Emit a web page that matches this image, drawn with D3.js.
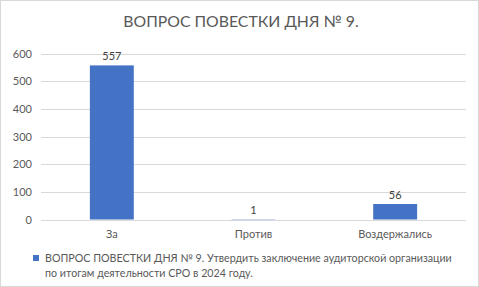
<!DOCTYPE html>
<html>
<head>
<meta charset="utf-8">
<script src="https://cdn.jsdelivr.net/npm/d3@7"></script>
<style>
  body { margin: 0; background: #fff; }
  text { font-family: Lato, "Open Sans", sans-serif; }
</style>
</head>
<body>
<svg id="chart" width="479" height="287"></svg>
<script>
let categories = ["За", "Против", "Воздержались"]
let votes = [557, 1, 56]
let yTicks = [0, 100, 200, 300, 400, 500, 600]
let chartTitle = "ВОПРОС ПОВЕСТКИ ДНЯ № 9."
let legendLines = ["ВОПРОС ПОВЕСТКИ ДНЯ № 9. Утвердить заключение аудиторской организации",
                   "по итогам деятельности СРО в 2024 году."]

let svg = d3.select("#chart")
let width = 479
let height = 287
let plotLeft = 41, plotRight = 466, plotTop = 53.5, plotBottom = 219.5

svg.append("rect")
    .attr("x", 0.5).attr("y", 0.5)
    .attr("width", width - 1).attr("height", height - 1)
    .attr("fill", "#fff")
    .attr("stroke", "#d9d9d9")

svg.append("text")
    .attr("x", 241).attr("y", 27)
    .attr("text-anchor", "middle")
    .attr("font-size", 15.8)
    .attr("fill", "#595959")
    .text(chartTitle)

let xScale = d3.scaleBand()
    .domain(categories)
    .range([plotLeft, plotRight])
    .paddingInner(0.69)
    .paddingOuter(0.345)
let yScale = d3.scaleLinear()
    .domain([0, 600])
    .range([plotBottom, plotTop])

// gridlines
svg.append("g")
    .selectAll("line")
    .data(yTicks)
    .join("line")
    .attr("x1", plotLeft).attr("x2", plotRight)
    .attr("y1", d => Math.round(yScale(d)) + 0.5)
    .attr("y2", d => Math.round(yScale(d)) + 0.5)
    .attr("stroke", "#d9d9d9")

let yAxis = svg.append("g")
    .attr("transform", "translate(" + (plotLeft - 9) + ",0)")
    .call(d3.axisLeft(yScale).tickValues(yTicks).tickSize(0).tickPadding(0))
yAxis.select(".domain").remove()
yAxis.selectAll("text")
    .attr("font-size", 11)
    .attr("fill", "#595959")
    .style("font-family", "Lato, sans-serif")

svg.append("g")
    .selectAll("rect")
    .data(votes)
    .join("rect")
    .attr("x", (d, i) => xScale(categories[i]))
    .attr("width", xScale.bandwidth())
    .attr("y", d => yScale(d))
    .attr("height", d => plotBottom - yScale(d))
    .attr("fill", "#4472c4")

svg.append("g")
    .selectAll("text")
    .data(votes)
    .join("text")
    .attr("x", (d, i) => xScale(categories[i]) + xScale.bandwidth() / 2)
    .attr("y", d => yScale(d) - 5)
    .attr("text-anchor", "middle")
    .attr("font-size", 11)
    .attr("fill", "#404040")
    .text(d => d)

let xAxis = svg.append("g")
    .attr("transform", "translate(0," + plotBottom + ")")
    .call(d3.axisBottom(xScale).tickSize(0).tickPadding(11))
xAxis.select(".domain").remove()
xAxis.selectAll("text")
    .attr("font-size", 11)
    .attr("fill", "#595959")
    .style("font-family", "Lato, sans-serif")

// legend
svg.append("rect")
    .attr("x", 33).attr("y", 255)
    .attr("width", 6).attr("height", 6)
    .attr("fill", "#4472c4")
svg.append("g")
    .selectAll("text")
    .data(legendLines)
    .join("text")
    .attr("x", 45)
    .attr("y", (d, i) => 262 + i * 15)
    .attr("font-size", 10.7)
    .attr("fill", "#595959")
    .text(d => d)
</script>
</body>
</html>
